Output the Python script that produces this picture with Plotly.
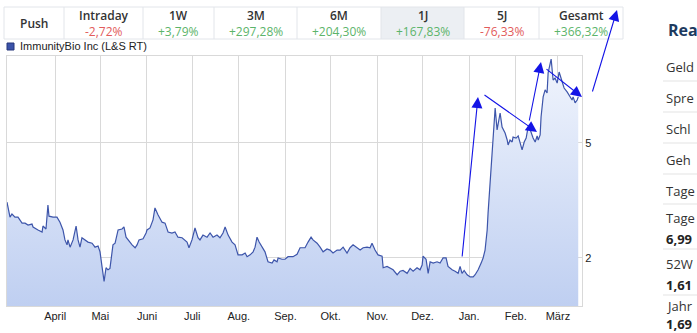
import math
import pandas as pd
import plotly.graph_objects as go

# ---------------- data ----------------
START = "2025-02-28"
day_offsets = [
    0, 2.0, 3.3, 5.3, 7.3, 10.0, 12.0, 14.0, 16.6, 17.3, 20.6, 23.3, 23.9, 25.9, 27.2, 27.9,
    30.6, 33.2, 35.2, 37.2, 38.5, 39.9, 40.5, 41.9, 43.9, 45.2, 45.9, 47.2, 48.5, 49.8, 51.8,
    53.8, 56.5, 58.5, 60.5, 61.8, 63.1, 64.5, 65.8, 67.1, 68.4, 70.4, 71.8, 73.8, 76.4, 77.7,
    79.1, 80.4, 83.1, 85.1, 86.4, 87.7, 90.4, 92.4, 93.0, 95.0, 97.0, 98.3, 100.3, 103.0,
    105.0, 107.0, 109.6, 111.6, 113.6, 116.3, 119.6, 120.9, 122.9, 124.9, 126.9, 128.2,
    130.2, 132.9, 134.9, 136.9, 139.5, 141.5, 143.5, 144.9, 146.9, 149.5, 151.5, 153.5,
    156.2, 158.2, 159.5, 161.5, 163.5, 164.8, 166.1, 167.5, 169.4, 171.4, 173.4, 176.1,
    177.4, 179.4, 180.1, 182.7, 184.7, 186.7, 190.0, 192.7, 194.7, 198.0, 200.0, 202.0,
    203.3, 206.0, 208.0, 210.0, 212.6, 214.6, 216.6, 219.3, 221.3, 223.3, 225.9, 227.9,
    229.9, 232.6, 234.6, 236.6, 239.2, 241.2, 242.5, 244.5, 246.5, 249.2, 249.9, 252.5,
    254.5, 256.5, 259.2, 261.2, 263.1, 265.8, 267.8, 269.8, 272.4, 274.4, 275.8, 276.4,
    278.4, 279.8, 281.1, 283.1, 285.7, 287.7, 289.7, 291.7, 293.0, 295.7, 297.7, 299.7,
    301.0, 302.3, 303.7, 305.7, 307.7, 309.7, 311.0, 313.0, 315.0, 316.3, 317.6, 319.0,
    319.6, 321.0, 322.3, 323.0, 324.3, 325.6, 327.6, 328.9, 330.9, 332.3, 332.9, 334.2,
    335.6, 336.2, 338.2, 339.6, 340.9, 342.2, 343.6, 344.9, 346.2, 347.6, 349.5, 350.9,
    352.2, 352.9, 354.2, 354.8, 356.2, 357.5, 358.8, 359.5, 361.5, 362.8, 364.1, 365.5,
    366.8, 368.8, 370.1, 372.1, 373.4, 375.4, 376.1, 377.4, 378.8, 379.5,
]
prices = [
    3.12, 2.77, 2.84, 2.77, 2.77, 2.64, 2.64, 2.60, 2.62, 2.56, 2.50, 2.46, 2.58, 2.52, 3.05, 2.79,
    2.77, 2.77, 2.66, 2.50, 2.31, 2.22, 2.31, 2.18, 2.31, 2.50, 2.58, 2.31, 2.18, 2.35, 2.31,
    2.27, 2.25, 2.18, 2.20, 2.10, 1.87, 1.66, 1.85, 1.82, 1.84, 2.22, 2.25, 2.50, 2.52, 2.56,
    2.36, 2.31, 2.22, 2.17, 2.22, 2.31, 2.33, 2.44, 2.50, 2.54, 2.71, 2.98, 2.82, 2.66,
    2.64, 2.46, 2.44, 2.46, 2.36, 2.35, 2.27, 2.17, 2.31, 2.54, 2.35, 2.31,
    2.40, 2.36, 2.44, 2.36, 2.40, 2.35, 2.44, 2.56, 2.40, 2.27, 2.22, 2.05,
    2.05, 2.08, 2.02, 2.05, 2.10, 2.18, 2.36, 2.27, 2.18, 2.10, 1.94, 1.92,
    1.97, 1.94, 2.00, 1.98, 1.98, 2.02, 2.02, 2.06, 2.17, 2.17, 2.27, 2.36,
    2.31, 2.25, 2.18, 2.10, 2.15, 2.13, 2.08, 2.13, 2.13, 2.18, 2.08, 2.17,
    2.22, 2.17, 2.13, 2.17, 2.18, 2.17, 2.25, 2.13, 2.05, 2.03, 1.85, 1.87,
    1.84, 1.82, 1.75, 1.80, 1.81, 1.77, 1.84, 1.80, 1.85, 1.82, 1.89, 2.03,
    1.98, 1.77, 1.94, 1.92, 1.94, 1.92, 2.00, 2.00, 1.87, 1.82, 1.80, 1.77,
    1.87, 1.77, 1.81, 1.75, 1.72, 1.72, 1.75, 1.82, 1.92, 2.00, 2.13, 2.50,
    2.86, 3.72, 4.66, 5.33, 6.61, 5.55, 6.35, 5.68, 5.41, 5.12, 4.92, 5.12,
    5.04, 5.24, 5.20, 5.29, 5.04, 4.73, 5.04, 5.20, 5.68, 5.55, 5.20, 5.04,
    5.29, 5.12, 5.33, 6.15, 7.22, 7.63, 7.45, 8.74, 9.76, 8.26, 8.39, 8.06,
    8.80, 8.06, 7.75, 7.51, 7.33, 7.04, 7.22, 6.88, 7.04, 7.22,
]
series_name = "ImmunityBio Inc (L&S RT)"

month_ticks = ["2025-04-01", "2025-05-01", "2025-06-01", "2025-07-01", "2025-08-01",
               "2025-09-01", "2025-10-01", "2025-11-01", "2025-12-01", "2026-01-01",
               "2026-02-01", "2026-03-01"]
month_labels = ["April", "Mai", "Juni", "Juli", "Aug.", "Sep.", "Okt.", "Nov.",
                "Dez.", "Jan.", "Feb.", "März"]
y_ticks = [2, 5]
x_range = ["2025-02-28", "2026-03-17"]
y_range_vals = [1.364, 10.0]

periods = ["Intraday", "1W", "3M", "6M", "1J", "5J", "Gesamt"]
period_changes = [-2.72, 3.79, 297.28, 204.30, 167.83, -76.33, 366.32]
active_period = "1J"

# right-hand sidebar, as much of each text as is visible in the window
side_title = "Rea"
side_rows = ["Geld", "Spre", "Schl", "Geh", "Tage", "Tage", "52W", "Jahr"]
side_values = [None, None, None, None, None, "6,99", "1,61", "1,69"]

# ---------------- layout helpers (pixel -> paper) ----------------
W, H = 697, 333
PL, PR, PT, PB = 7, 582, 56, 306


def X(px):
    return (px - PL) / (PR - PL)


def Y(py):
    return (PB - py) / (PB - PT)


dates = pd.Timestamp(START) + pd.to_timedelta(day_offsets, unit="D")

fig = go.Figure()
fig.add_trace(go.Scatter(
    x=dates, y=prices, mode="lines", name=series_name,
    line=dict(color="#3d55aa", width=1.2),
    fill="tozeroy",
    fillgradient=dict(type="vertical", start=y_range_vals[0], stop=y_range_vals[1],
                      colorscale=[[0, "#bfcff1"], [1, "#f1f5fd"]]),
    showlegend=False,
))

shapes = []
annotations = []
font_sans = "Open Sans, Noto Sans, sans-serif"
font_arial = "Liberation Sans, Arial, sans-serif"

# header table
cell_edges = [4, 64, 143, 214, 297, 381, 464, 539, 623]
top, bot = 7, 39
ai = periods.index(active_period) + 1
shapes.append(dict(type="rect", xref="paper", yref="paper",
                   x0=X(cell_edges[ai]), x1=X(cell_edges[ai + 1]), y0=Y(bot), y1=Y(top),
                   fillcolor="#eceff3", line=dict(width=0), layer="below"))
shapes.append(dict(type="rect", xref="paper", yref="paper",
                   x0=X(cell_edges[0]), x1=X(cell_edges[-1]), y0=Y(bot), y1=Y(top),
                   line=dict(color="#e2e5ea", width=1)))
for e in cell_edges[1:-1]:
    shapes.append(dict(type="line", xref="paper", yref="paper",
                       x0=X(e), x1=X(e), y0=Y(bot), y1=Y(top),
                       line=dict(color="#e2e5ea", width=1)))
annotations.append(dict(text="Push", xref="paper", yref="paper",
                        x=X((cell_edges[0] + cell_edges[1]) / 2), y=Y(23),
                        showarrow=False, xanchor="center", yanchor="middle",
                        font=dict(family=font_sans, size=12, color="#333333", weight=600)))
for i, (p, c) in enumerate(zip(periods, period_changes)):
    cx = (cell_edges[i + 1] + cell_edges[i + 2]) / 2
    annotations.append(dict(text=p, xref="paper", yref="paper", x=X(cx), y=Y(15),
                            showarrow=False, xanchor="center", yanchor="middle",
                            font=dict(family=font_sans, size=12, color="#333333", weight=600)))
    txt = f"{c:+.2f}%".replace(".", ",")
    col = "#e25b5b" if c < 0 else "#5cb46a"
    annotations.append(dict(text=txt, xref="paper", yref="paper", x=X(cx), y=Y(32),
                            showarrow=False, xanchor="center", yanchor="middle",
                            font=dict(family=font_sans, size=12, color=col)))

# legend entry
shapes.append(dict(type="rect", xref="paper", yref="paper",
                   x0=X(7), x1=X(14), y0=Y(50), y1=Y(43),
                   fillcolor="#3b53a9", line=dict(color="#26367a", width=1)))
annotations.append(dict(text=series_name, xref="paper", yref="paper", x=X(18), y=Y(46.5),
                        showarrow=False, xanchor="left", yanchor="middle",
                        font=dict(family=font_arial, size=11, color="#222222")))

# drawn trend arrows: (head px, head py, tail dx, tail dy)
arrows = [(478, 97, -16, 161), (537, 132, -54, -38), (541, 62, -12, 60),
          (582, 97, -37, -29), (617, 10, -25, 83)]
for hx, hy, dx, dy in arrows:
    annotations.append(dict(text="", xref="paper", yref="paper", x=X(hx), y=Y(hy),
                            axref="pixel", ayref="pixel", ax=dx, ay=dy,
                            showarrow=True, arrowhead=2, arrowsize=2.0, arrowwidth=1.1,
                            arrowcolor="#1414e6", standoff=0, startstandoff=0))

# right sidebar
annotations.append(dict(text=f"<b>{side_title}</b>", xref="paper", yref="paper",
                        x=X(666), y=Y(30), showarrow=False, xanchor="left", yanchor="middle",
                        font=dict(family=font_sans, size=16, color="#1d3a5f")))
row_label_y = [67, 98, 129, 160, 191, 218, 264, 306]
value_y = [None, None, None, None, None, 239, 285, 324]
sep_y = [81, 112, 143, 174, 204, 249, 295]
for sy in sep_y:
    shapes.append(dict(type="line", xref="paper", yref="paper",
                       x0=X(663), x1=X(700), y0=Y(sy), y1=Y(sy),
                       line=dict(color="#e3e3e3", width=1)))
for lab, val, ly, vy in zip(side_rows, side_values, row_label_y, value_y):
    annotations.append(dict(text=lab, xref="paper", yref="paper", x=X(664), y=Y(ly),
                            showarrow=False, xanchor="left", yanchor="middle",
                            font=dict(family=font_sans, size=13, color="#333333")))
    if val:
        annotations.append(dict(text=f"<b>{val}</b>", xref="paper", yref="paper",
                                x=X(664), y=Y(vy), showarrow=False,
                                xanchor="left", yanchor="middle",
                                font=dict(family=font_sans, size=13, color="#222222")))

fig.update_layout(
    width=W, height=H,
    margin=dict(l=PL, r=W - PR, t=PT, b=H - PB, pad=0),
    paper_bgcolor="white", plot_bgcolor="white",
    shapes=shapes, annotations=annotations,
    showlegend=False,
)
fig.update_xaxes(
    type="date", range=x_range,
    tickvals=month_ticks, ticktext=month_labels,
    showgrid=True, gridcolor="#d9d9d9", gridwidth=1,
    showline=True, mirror=True, linecolor="#d9d9d9", linewidth=1,
    ticks="", zeroline=False,
    tickfont=dict(family=font_arial, size=11, color="#222222"),
)
fig.update_yaxes(
    type="log", range=[math.log10(y_range_vals[0]), math.log10(y_range_vals[1])],
    tickvals=y_ticks, ticktext=[str(v) for v in y_ticks], side="right",
    showgrid=True, gridcolor="#d9d9d9", gridwidth=1,
    showline=True, mirror=True, linecolor="#d9d9d9", linewidth=1,
    ticks="", zeroline=False,
    tickfont=dict(family=font_arial, size=11, color="#222222"),
)

fig.write_html("out.html")
